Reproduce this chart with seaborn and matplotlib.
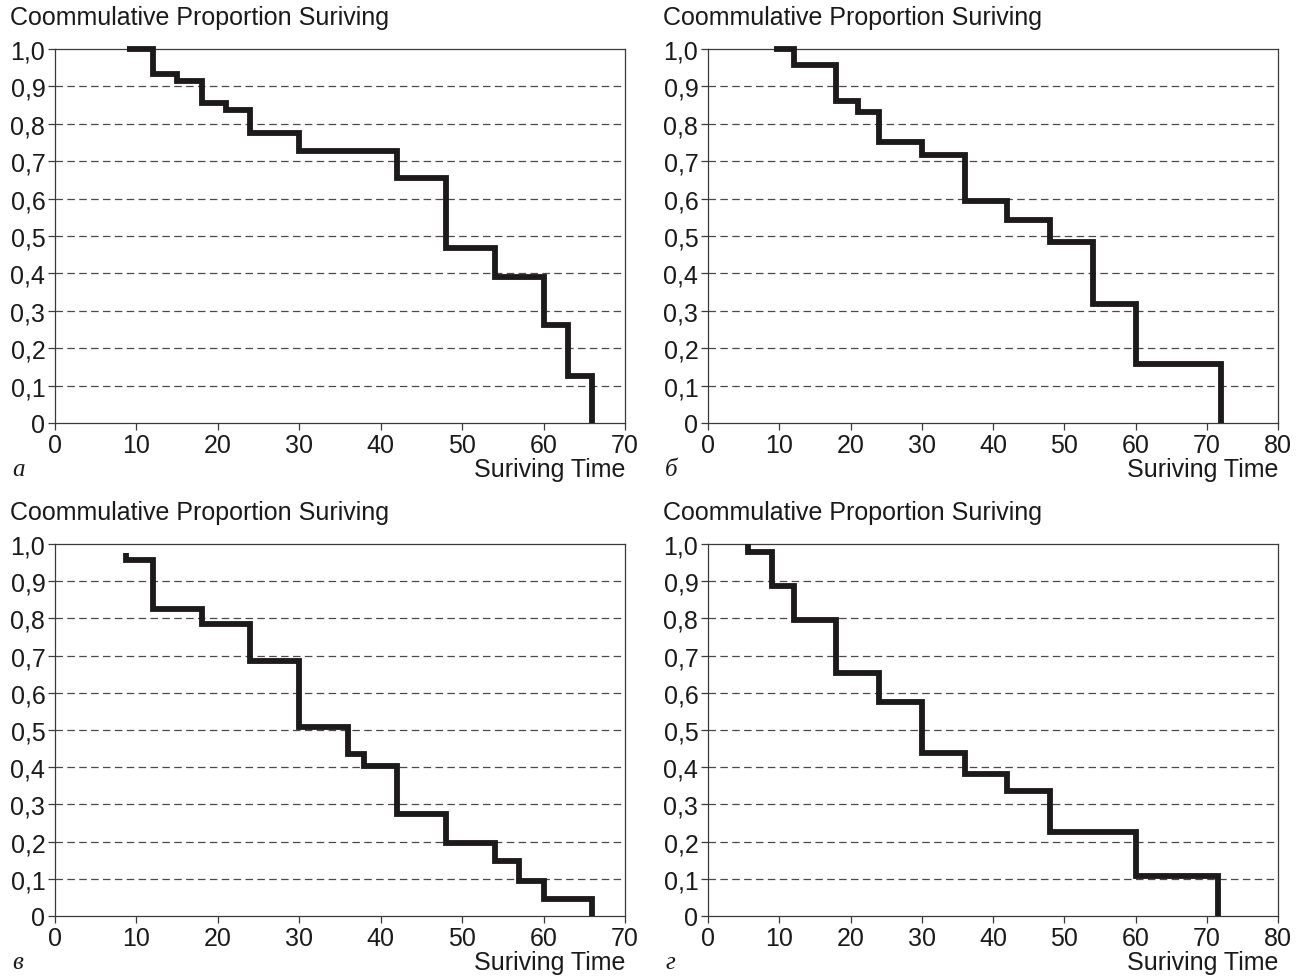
import numpy as np
import pandas as pd
import matplotlib
matplotlib.use("Agg")
import matplotlib.pyplot as plt
from matplotlib.ticker import FuncFormatter, MultipleLocator
import seaborn as sns

# ---------------------------------------------------------
# data (steps-post)
# ---------------------------------------------------------
time_a = [8.8, 12, 15, 18, 21, 24, 30, 42, 48, 54, 60, 63, 66]
surv_a = [1.0, 0.934, 0.914, 0.855, 0.837, 0.775, 0.728, 0.656, 0.467, 0.391, 0.261, 0.126, 0.0]

time_b = [9.2, 12, 18, 21, 24, 30, 36, 42, 48, 54, 60, 72]
surv_b = [1.0, 0.957, 0.860, 0.831, 0.752, 0.716, 0.593, 0.544, 0.485, 0.319, 0.159, 0.0]

time_c = [8.7, 8.7, 12, 18, 24, 30, 36, 38, 42, 48, 54, 57, 60, 66]
surv_c = [0.976, 0.957, 0.825, 0.785, 0.686, 0.507, 0.435, 0.404, 0.274, 0.196, 0.148, 0.094, 0.045, 0.0]

time_d = [5.6, 5.6, 9, 12, 18, 24, 30, 36, 42, 48, 60, 71.6]
surv_d = [1.0, 0.978, 0.888, 0.796, 0.652, 0.576, 0.437, 0.381, 0.336, 0.227, 0.108, 0.0]

panel_letters = ["а", "б", "в", "г"]
x_max = [70, 80, 70, 80]

y_title = "Coommulative Proportion Suriving"
x_title = "Suriving Time"

# ---------------------------------------------------------
# style
# ---------------------------------------------------------
sns.set_theme(style="white")
plt.rcParams['font.family'] = ['Liberation Sans', 'DejaVu Sans']

W, H = 1311, 978
fig = plt.figure(figsize=(W / 100, H / 100), dpi=100)

# axes boxes in pixels: left, top, right, bottom
boxes = [(55, 50, 625, 424), (708, 50, 1278, 424),
         (55, 545, 625, 917), (708, 545, 1278, 917)]

series = [(time_a, surv_a), (time_b, surv_b), (time_c, surv_c), (time_d, surv_d)]

def comma_fmt(v, pos):
    if abs(v) < 1e-9:
        return "0"
    return f"{v:.1f}".replace(".", ",")

fs = 18
for i, (box, (t, s)) in enumerate(zip(boxes, series)):
    l, top, r, b = box
    ax = fig.add_axes([l / W, 1 - b / H, (r - l) / W, (b - top) / H])
    df = pd.DataFrame({"time": t, "surv": s})
    sns.lineplot(data=df, x="time", y="surv", ax=ax, estimator=None, sort=False,
                 drawstyle="steps-post", color="#1c1a1a", linewidth=4.2,
                 solid_capstyle="butt", solid_joinstyle="miter",
                 clip_on=False, zorder=5)

    ax.set_xlim(0, x_max[i])
    ax.set_ylim(0, 1.0)
    ax.xaxis.set_major_locator(MultipleLocator(10))
    ax.yaxis.set_major_locator(MultipleLocator(0.1))
    ax.yaxis.set_major_formatter(FuncFormatter(comma_fmt))
    ax.set_xlabel("")
    ax.set_ylabel("")

    for yv in np.arange(0.1, 0.95, 0.1):
        ax.axhline(yv, color="#4a4a4a", linewidth=0.9, linestyle=(0, (6, 3.5)), zorder=1)

    for sp in ax.spines.values():
        sp.set_visible(True)
        sp.set_color("#3a3a3a")
        sp.set_linewidth(0.9)

    ax.tick_params(axis="both", which="major", direction="out", length=5, width=0.9,
                   color="#3a3a3a", labelsize=fs, labelcolor="#1a1a1a", pad=2,
                   bottom=True, left=True)

    # titles and labels
    fig.text((l - 45) / W, 1 - (top - 32) / H, y_title, fontsize=fs,
             color="#1a1a1a", ha="left", va="center")
    fig.text(r / W, 1 - (b + 46) / H, x_title, fontsize=fs,
             color="#1a1a1a", ha="right", va="center")
    fig.text((l - 43) / W, 1 - (b + 46) / H, panel_letters[i], fontsize=fs,
             family=["Liberation Serif", "DejaVu Serif"], style="italic",
             color="#1a1a1a", ha="left", va="center")

fig.savefig("out.png", dpi=100, facecolor="white")
